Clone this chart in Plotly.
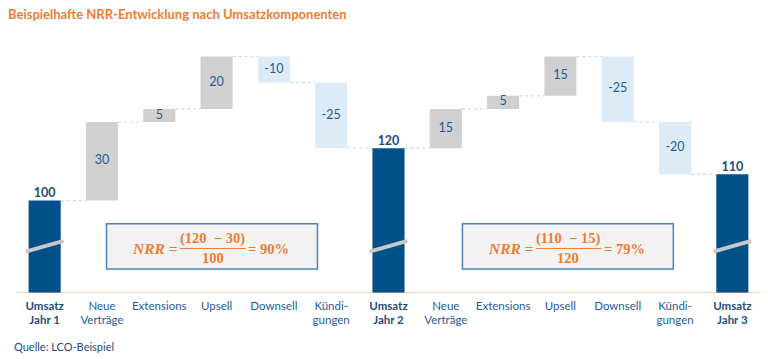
import plotly.graph_objects as go

# ---- data ----
categories = ["Umsatz<br>Jahr 1", "Neue<br>Verträge", "Extensions", "Upsell", "Downsell", "Kündi-<br>gungen",
              "Umsatz<br>Jahr 2", "Neue<br>Verträge", "Extensions", "Upsell", "Downsell", "Kündi-<br>gungen",
              "Umsatz<br>Jahr 3"]
values = [100, 30, 5, 20, -10, -25, 120, 15, 5, 15, -25, -20, 110]
kinds = ["total", "delta", "delta", "delta", "delta", "delta", "total",
         "delta", "delta", "delta", "delta", "delta", "total"]
value_labels = ["100", "30", "5", "20", "-10", "-25", "120", "15", "5", "15", "-25", "-20", "110"]

formula_1 = {"num": "(120  − 30)", "den": "100", "res": "= 90%"}
formula_2 = {"num": "(110  − 15)", "den": "120", "res": "= 79%"}

Y_MIN, Y_MAX = 64.7, 161.3
BREAK_LOW, BREAK_HIGH = 80.5, 84.6

# ---- colours ----
C_TOTAL = "#00518A"
C_UP = "#D0D0D0"
C_DOWN = "#DDEBF7"
C_TXT = "#1F5C99"
C_TXT_DARK = "#1F4E79"
C_ORANGE = "#ED7D31"

BW = 0.56
x = list(range(len(values)))

bases, heights, colors, levels = [], [], [], []
run = 0
for v, k in zip(values, kinds):
    if k == "total":
        run = v
        bases.append(0); heights.append(v); colors.append(C_TOTAL)
    else:
        start = run
        run = run + v
        bases.append(min(start, run)); heights.append(abs(v))
        colors.append(C_UP if v > 0 else C_DOWN)
    levels.append(run)

fig = go.Figure()
fig.add_trace(go.Bar(x=x, y=heights, base=bases, width=BW,
                     marker=dict(color=colors, line=dict(width=0)),
                     hoverinfo="skip", showlegend=False))

# delta labels (middle of bar)
dx = [i for i, k in enumerate(kinds) if k == "delta"]
fig.add_trace(go.Scatter(x=dx, y=[bases[i] + heights[i] / 2 for i in dx],
                         text=[value_labels[i] for i in dx], mode="text",
                         textfont=dict(family="Lato", size=12.5, color=C_TXT),
                         hoverinfo="skip", showlegend=False))
# total labels
tx = [i for i, k in enumerate(kinds) if k == "total"]
fig.add_trace(go.Scatter(x=tx, y=[values[i] for i in tx],
                         text=["<b>%s</b>" % value_labels[i] for i in tx], mode="text",
                         textposition="top center",
                         textfont=dict(family="Lato", size=12.5, color=C_TXT_DARK),
                         hoverinfo="skip", showlegend=False))

shapes = []
# connectors
for i in range(len(values) - 1):
    shapes.append(dict(type="line", xref="x", yref="y", x0=i + BW / 2, x1=i + 1 - BW / 2,
                       y0=levels[i], y1=levels[i],
                       line=dict(color="#C5D9EC", width=1.2, dash="dot"), layer="below"))
# axis break marks on totals
for i in tx:
    shapes.append(dict(type="line", xref="x", yref="y", x0=i - 0.33, x1=i + 0.33,
                       y0=BREAK_LOW, y1=BREAK_HIGH,
                       line=dict(color="#C8C8C8", width=4)))
# baseline
shapes.append(dict(type="line", xref="paper", yref="y", x0=0, x1=1, y0=Y_MIN, y1=Y_MIN,
                   line=dict(color="#F4B183", width=1.2)))

annotations = []
FS = 14.5
def formula(x0, f):
    shapes.append(dict(type="rect", xref="x", yref="y", x0=x0, x1=x0 + 3.68, y0=73.9, y1=91.1,
                       fillcolor="#F2F2F2", line=dict(color="#4A86BE", width=1.5), layer="below"))
    font = dict(family="Liberation Serif", size=FS, color=C_ORANGE)
    annotations.append(dict(x=x0 + 0.84, y=81.6, xref="x", yref="y", text="<b><i>NRR</i> =</b>",
                            showarrow=False, font=dict(family="Liberation Serif", size=15.5, color=C_ORANGE)))
    annotations.append(dict(x=x0 + 1.85, y=85.6, xref="x", yref="y", text="<b>%s</b>" % f["num"],
                            showarrow=False, font=font))
    annotations.append(dict(x=x0 + 1.85, y=77.9, xref="x", yref="y", text="<b>%s</b>" % f["den"],
                            showarrow=False, font=font))
    annotations.append(dict(x=x0 + 2.82, y=81.6, xref="x", yref="y", text="<b>%s</b>" % f["res"],
                            showarrow=False, font=font))
    shapes.append(dict(type="line", xref="x", yref="y", x0=x0 + 1.28, x1=x0 + 2.43, y0=81.7, y1=81.7,
                       line=dict(color=C_ORANGE, width=1)))

formula(1.08, formula_1)
formula(7.29, formula_2)

W, H = 768, 359
ML, MR, MT, MB = 16, 7, 40, 66
pw, ph = W - ML - MR, H - MT - MB

annotations.append(dict(x=(12 - ML) / pw, y=(H - MB - 346) / ph, xref="paper", yref="paper",
                        text="Quelle: LCO-Beispiel",
                        showarrow=False, xanchor="left", yanchor="middle",
                        font=dict(family="Lato", size=11, color=C_TXT_DARK)))

ticktext = []
for c, k in zip(categories, kinds):
    if k == "total":
        ticktext.append("<b><span style='color:%s'>%s</span></b>" % (C_TXT_DARK, c))
    else:
        ticktext.append(c)

fig.update_layout(
    width=W, height=H, margin=dict(l=ML, r=MR, t=MT, b=MB),
    paper_bgcolor="white", plot_bgcolor="white",
    title=dict(text="<b>Beispielhafte NRR-Entwicklung nach Umsatzkomponenten</b>",
               x=8 / W, xanchor="left", y=1 - 14 / H, yanchor="middle",
               font=dict(family="Lato", size=13, color=C_ORANGE)),
    xaxis=dict(range=[-0.5, 12.5], tickvals=x, ticktext=ticktext, showgrid=False, zeroline=False,
               showline=False, ticks="", ticklabelstandoff=4,
               tickfont=dict(family="Lato", size=11.5, color=C_TXT),
               fixedrange=True),
    yaxis=dict(range=[Y_MIN, Y_MAX], visible=False, showgrid=False, fixedrange=True),
    shapes=shapes, annotations=annotations, bargap=0.44,
)

fig.write_html("out.html", config={"displayModeBar": False},
               post_script="document.body.style.margin='0px';document.body.style.padding='0px';")
